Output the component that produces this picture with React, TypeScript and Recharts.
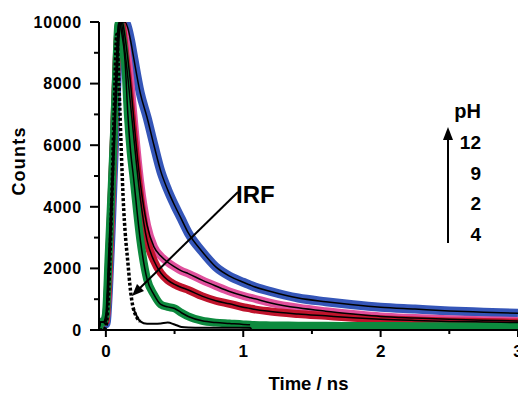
import React from 'react';
import { LineChart, Line, XAxis, YAxis } from 'recharts';

// time axis (ns) shared by every trace
const times = [
  -0.05, -0.04, -0.02, 0, 0.02, 0.04, 0.06, 0.08, 0.09, 0.1,
  0.11, 0.12, 0.13, 0.14, 0.16, 0.18, 0.2, 0.25, 0.3, 0.35,
  0.4, 0.45, 0.5, 0.55, 0.6, 0.7, 0.8, 0.9, 1.0, 1.05,
  1.06, 1.2, 1.4, 1.6, 1.8, 2.0, 2.25, 2.5, 2.75, 3.0,
];

// decay counts per pH
const ph12 = [
  0, 250, 250, 200, 1400, 3400, 5700, 8000, 9000, 9700,
  10000, 10000, 10000, 10000, 9800, 9400, 8900, 7700, 6900, 6000,
  5150, 4550, 4050, 3600, 3150, 2550, 2050, 1750, 1550, 1460,
  1440, 1250, 1040, 920, 820, 740, 680, 620, 580, 540,
];
const ph9 = [
  0, 250, 250, 300, 1800, 4000, 6300, 8800, 9600, 10000,
  10000, 10000, 9800, 9500, 8800, 8000, 7000, 4800, 3400, 2700,
  2400, 2200, 2050, 1920, 1830, 1620, 1430, 1250, 1110, 1050,
  1040, 880, 720, 610, 520, 440, 390, 350, 320, 290,
];
const ph2 = [
  0, 250, 250, 300, 1900, 4100, 6400, 8900, 9700, 10000,
  10000, 9800, 9400, 9000, 8200, 7300, 6400, 4300, 2900, 2250,
  1850, 1620, 1480, 1380, 1300, 1100, 950, 850, 740, 700,
  690, 600, 520, 460, 400, 350, 310, 280, 260, 240,
];
const ph4 = [
  0, 250, 250, 500, 2400, 4400, 6500, 9000, 9900, 10000,
  9800, 9500, 9200, 8700, 7000, 5800, 5000, 2950, 1650, 1150,
  830, 750, 700, 560, 440, 300, 240, 210, 180, 170,
  165, 150, 140, 135, 130, 130, 125, 125, 120, 120,
];
const irf = [
  0, 0, 0, 100, 1200, 3800, 7000, 9600, 8600, 7400,
  6100, 4900, 3900, 3200, 2200, 1250, 700, 280, 200, 200,
  210, 240, 180, 100, 80, 70, 70, 70, 70, 70,
  0, null, null, null, null, null, null, null, null, null,
];

const xTicks = [0, 0.5, 1, 1.5, 2, 2.5, 3];
const yTicks = [0, 1000, 2000, 3000, 4000, 5000, 6000, 7000, 8000, 9000, 10000];
const phLabels = ['12', '9', '2', '4'];

const FONT = '"Liberation Sans", Arial, Helvetica, sans-serif';
const BLUE = '#3556b8';
const PINK = '#e0509c';
const RED = '#c0142c';
const GREEN = '#0d8a3e';

const rows = times.map((t, i) => ({
  t,
  ph12: ph12[i],
  ph9: ph9[i],
  ph2: ph2[i],
  ph4: ph4[i],
  ph4Fit: t <= 1.05 ? ph4[i] : null,
  irfDots: t <= 0.25 ? irf[i] : null,
  irfLine: t >= 0.2 ? irf[i] : null,
}));

function YTick({ x, y, payload }: any) {
  const major = payload.value % 2000 === 0;
  return (
    <g>
      <line x1={x} x2={x - (major ? 9 : 5)} y1={y} y2={y} stroke="#000" strokeWidth={2} />
      {major && (
        <text x={x - 17} y={y} dy="0.36em" textAnchor="end" fontFamily={FONT}
          fontWeight="bold" fontSize={16} letterSpacing={0.8} fill="#000">
          {payload.value}
        </text>
      )}
    </g>
  );
}

function XTick({ x, y, payload }: any) {
  const major = Number.isInteger(payload.value);
  return (
    <g>
      <line x1={x} x2={x} y1={y} y2={y + (major ? 7 : 4)} stroke="#000" strokeWidth={2} />
      {major && (
        <text x={x} y={y + 27} textAnchor="middle" fontFamily={FONT}
          fontWeight="bold" fontSize={17} fill="#000">
          {payload.value}
        </text>
      )}
    </g>
  );
}

const band = (key: string, color: string, w = 8) => (
  <Line key={key} dataKey={key} type="monotone" stroke={color} strokeWidth={w}
    strokeLinejoin="round" dot={false} activeDot={false} isAnimationActive={false} />
);

const fit = (key: string) => (
  <Line key={key + '-fit'} dataKey={key} type="monotone" stroke="#000" strokeWidth={1.5}
    dot={false} activeDot={false} isAnimationActive={false} />
);

export default function App() {
  return (
    <div style={{ position: 'absolute', left: 0, top: 0, width: 518, height: 394, overflow: 'hidden', background: '#fff' }}>
      <LineChart width={530} height={394} data={rows} margin={{ top: 22, right: 12, bottom: 0, left: 0 }}>
        <XAxis
          dataKey="t"
          type="number"
          domain={[-0.05, 3]}
          ticks={xTicks}
          interval={0}
          allowDataOverflow
          height={64}
          tickSize={0}
          tickMargin={0}
          tickLine={false}
          tick={XTick}
          axisLine={{ stroke: '#000', strokeWidth: 2 }}
          label={(p: any) => (
            <text x={p.viewBox.x + p.viewBox.width / 2} y={p.viewBox.y + 60} textAnchor="middle"
              fontFamily={FONT} fontWeight="bold" fontSize={18.5} fill="#000">
              Time / ns
            </text>
          )}
        />
        <YAxis
          type="number"
          domain={[0, 10000]}
          ticks={yTicks}
          interval={0}
          allowDataOverflow
          width={99}
          tickSize={0}
          tickMargin={0}
          tickLine={false}
          tick={YTick}
          axisLine={{ stroke: '#000', strokeWidth: 2 }}
          label={(p: any) => (
            <text x={p.viewBox.x + 25} y={p.viewBox.y + 139} transform={`rotate(-90, ${p.viewBox.x + 25}, ${p.viewBox.y + 139})`}
              textAnchor="middle" fontFamily={FONT} fontWeight="bold" fontSize={18} letterSpacing={1.2} fill="#000">
              Counts
            </text>
          )}
        />
        {band('ph12', BLUE, 9)}
        {band('ph9', PINK)}
        {band('ph2', RED)}
        {band('ph4', GREEN)}
        <Line dataKey="irfDots" type="monotone" stroke="#000" strokeWidth={3.5} strokeDasharray="3 2"
          dot={false} activeDot={false} isAnimationActive={false} />
        {fit('ph12')}
        {fit('ph9')}
        {fit('ph2')}
        {fit('ph4Fit')}
        <Line dataKey="irfLine" type="monotone" stroke="#000" strokeWidth={2}
          dot={false} activeDot={false} isAnimationActive={false} />
      </LineChart>
      <svg width={518} height={394} style={{ position: 'absolute', left: 0, top: 0, pointerEvents: 'none' }}>
        <g fontFamily={FONT} fontWeight="bold" fill="#000">
          <text x={236} y={203} fontSize={24}>IRF</text>
          <line x1={238} y1={192} x2={140} y2={288} stroke="#000" strokeWidth={2} />
          <polygon points="132,296 144,291 137,284" fill="#000" />
          <text x={481} y={118} fontSize={20} textAnchor="end">pH</text>
          {phLabels.map((s, i) => (
            <text key={s} x={481} y={149 + i * 30.5} fontSize={19} textAnchor="end">{s}</text>
          ))}
          <line x1={448} y1={243} x2={448} y2={136} stroke="#000" strokeWidth={2} />
          <polygon points="448,127 443,140 453,140" fill="#000" />
        </g>
      </svg>
    </div>
  );
}
